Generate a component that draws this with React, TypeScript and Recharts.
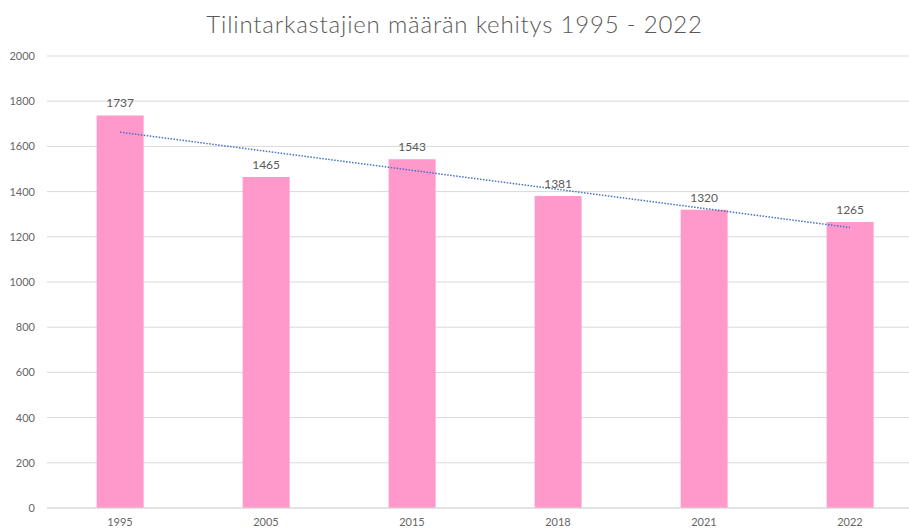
import { ComposedChart, Bar, Line, XAxis, YAxis, CartesianGrid, LabelList } from 'recharts';

const years = ['1995', '2005', '2015', '2018', '2021', '2022'];
const auditors = [1737, 1465, 1543, 1381, 1320, 1265];
// dotted linear trend, end points
const trend = [1663, null, null, null, null, 1241];
const yTicks = [0, 200, 400, 600, 800, 1000, 1200, 1400, 1600, 1800, 2000];

const data = years.map((year, i) => ({ year, auditors: auditors[i], trend: trend[i] }));

const font = 'Lato, "Open Sans", sans-serif';

export default function App() {
  return (
    <div style={{ position: 'absolute', left: 0, top: 0, width: 909, height: 528, overflow: 'hidden', background: '#fff', fontFamily: font }}>
      <div style={{ position: 'absolute', left: 0, top: 9, width: 909, textAlign: 'center', fontSize: 24, color: '#595959', fontWeight: 300, letterSpacing: 0.8 }}>
        Tilintarkastajien määrän kehitys 1995 - 2022
      </div>
      <ComposedChart
        width={923}
        height={540}
        data={data}
        margin={{ top: 56, right: 0, bottom: 2, left: 0 }}
        barCategoryGap="34%"
      >
        <CartesianGrid vertical={false} stroke="#d9d9d9" />
        <XAxis
          dataKey="year"
          height={30}
          tickLine={false}
          axisLine={{ stroke: '#d9d9d9' }}
          tick={{ fontSize: 11, fill: '#666666', fontFamily: font }}
          tickMargin={4}
        />
        <YAxis
          width={47}
          domain={[0, 2000]}
          ticks={yTicks}
          tickLine={false}
          axisLine={false}
          tickMargin={6}
          tick={{ fontSize: 11, fill: '#666666', fontFamily: font }}
        />
        <Bar dataKey="auditors" fill="#ff99cc" isAnimationActive={false}>
          <LabelList dataKey="auditors" position="top" offset={8} style={{ fontSize: 12, fill: '#595959', fontFamily: font }} />
        </Bar>
        <Line
          dataKey="trend"
          connectNulls
          stroke="#4472c4"
          strokeWidth={1.5}
          strokeDasharray="1.5 1.5"
          dot={false}
          isAnimationActive={false}
        />
      </ComposedChart>
    </div>
  );
}
